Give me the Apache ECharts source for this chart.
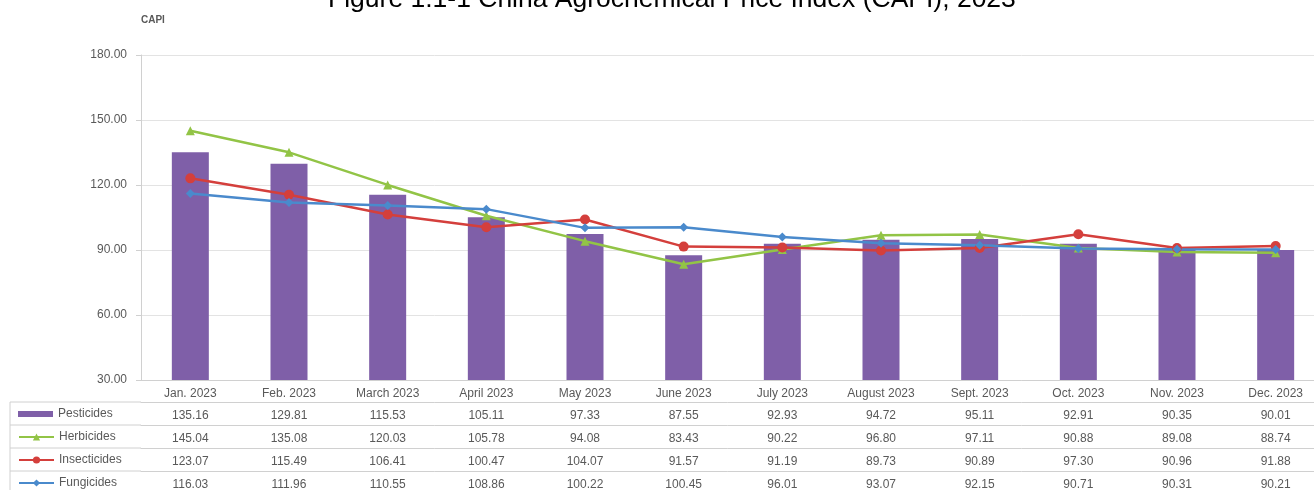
<!DOCTYPE html>
<html>
<head>
<meta charset="utf-8">
<script src="https://cdn.jsdelivr.net/npm/echarts@6/dist/echarts.min.js"></script>
<style>
html, body { margin: 0; padding: 0; background: #fff; }
#chart { width: 1314px; height: 490px; }
</style>
</head>
<body>
<div id="chart"></div>
<script>
var months = ["Jan. 2023", "Feb. 2023", "March 2023", "April 2023", "May 2023", "June 2023",
    "July 2023", "August 2023", "Sept. 2023", "Oct. 2023", "Nov. 2023", "Dec. 2023"];
var pesticides = [135.16, 129.81, 115.53, 105.11, 97.33, 87.55, 92.93, 94.72, 95.11, 92.91, 90.35, 90.01];
var herbicides = [145.04, 135.08, 120.03, 105.78, 94.08, 83.43, 90.22, 96.80, 97.11, 90.88, 89.08, 88.74];
var insecticides = [123.07, 115.49, 106.41, 100.47, 104.07, 91.57, 91.19, 89.73, 90.89, 97.30, 90.96, 91.88];
var fungicides = [116.03, 111.96, 110.55, 108.86, 100.22, 100.45, 96.01, 93.07, 92.15, 90.71, 90.31, 90.21];
var seriesNames = ["Pesticides", "Herbicides", "Insecticides", "Fungicides"];

var textColor = "#595959",
    lineColor = "#d0d0d0",
    colors = ["#7f5fa8", "#92c446", "#d43f3c", "#4a8acc"];

var myChart = echarts.init(document.getElementById("chart"));

// table under the plot: one category axis per row
var rows = [pesticides, herbicides, insecticides, fungicides];
var xAxes = [{
    type: "category",
    data: months,
    position: "bottom",
    axisLine: { lineStyle: { color: lineColor } },
    axisTick: { length: 22, lineStyle: { color: lineColor } },
    axisLabel: { interval: 0, margin: 8, fontSize: 12, color: textColor, fontFamily: "Liberation Sans" }
}];
rows.forEach(function(vals, i) {
    xAxes.push({
        type: "category",
        data: vals.map(function(v) { return v.toFixed(2); }),
        position: "bottom",
        offset: 22 + 23 * i,
        axisLine: { lineStyle: { color: lineColor } },
        axisTick: { length: 23, lineStyle: { color: lineColor } },
        axisLabel: { interval: 0, margin: 8, fontSize: 12, color: textColor, fontFamily: "Liberation Sans" }
    });
});
xAxes.push({
    type: "category",
    data: months,
    position: "bottom",
    offset: 22 + 23 * 4,
    axisLine: { lineStyle: { color: lineColor } },
    axisTick: { show: false },
    axisLabel: { show: false }
});

var legends = seriesNames.map(function(name, i) {
    return {
        data: [i === 0 ? { name: name, icon: "rect" } : name],
        left: 18,
        top: 408 + 23 * i,
        padding: 0,
        itemWidth: 35,
        itemHeight: i === 0 ? 6 : 9,
        selectedMode: false,
        textStyle: { fontSize: 12, color: textColor, fontFamily: "Liberation Sans" }
    };
});

var borders = [];
[402, 425, 448, 471, 494].forEach(function(y) {
    borders.push({ type: "line", shape: { x1: 10, y1: y, x2: 141, y2: y }, style: { stroke: lineColor, lineWidth: 1 } });
});
borders.push({ type: "line", shape: { x1: 10, y1: 402, x2: 10, y2: 494 }, style: { stroke: lineColor, lineWidth: 1 } });

var option = {
    animation: false,
    title: {
        text: "Figure 1.1-1 China Agrochemical Price Index (CAPI), 2023",
        left: 323,
        top: -19,
        textStyle: { fontSize: 26.5, fontWeight: "normal", color: "#000", fontFamily: "Liberation Sans" }
    },
    legend: legends,
    grid: { left: 141, top: 55, right: -11, bottom: 110, containLabel: false, outerBoundsMode: "none" },
    xAxis: xAxes,
    yAxis: {
        type: "value",
        min: 30,
        max: 180,
        interval: 30,
        name: "CAPI",
        nameLocation: "end",
        nameGap: 30,
        nameTextStyle: { align: "left", fontSize: 10, fontWeight: "bold", color: textColor, fontFamily: "Liberation Sans" },
        axisLine: { show: true, lineStyle: { color: lineColor } },
        axisTick: { show: true, length: 5, lineStyle: { color: lineColor } },
        axisLabel: {
            margin: 14,
            fontSize: 12,
            color: textColor,
            fontFamily: "Liberation Sans",
            formatter: function(v) { return v.toFixed(2); }
        },
        splitLine: { lineStyle: { color: "#e3e3e3" } }
    },
    graphic: borders,
    series: [{
        name: seriesNames[0],
        type: "bar",
        data: pesticides,
        barWidth: 37,
        itemStyle: { color: colors[0] }
    }, {
        name: seriesNames[1],
        type: "line",
        data: herbicides,
        symbol: "triangle",
        symbolSize: 9,
        lineStyle: { width: 2.5, color: colors[1] },
        itemStyle: { color: colors[1] }
    }, {
        name: seriesNames[2],
        type: "line",
        data: insecticides,
        symbol: "circle",
        symbolSize: 10,
        lineStyle: { width: 2.5, color: colors[2] },
        itemStyle: { color: colors[2] }
    }, {
        name: seriesNames[3],
        type: "line",
        data: fungicides,
        symbol: "diamond",
        symbolSize: 9,
        lineStyle: { width: 2.5, color: colors[3] },
        itemStyle: { color: colors[3] }
    }]
};
myChart.setOption(option);
</script>
</body>
</html>
